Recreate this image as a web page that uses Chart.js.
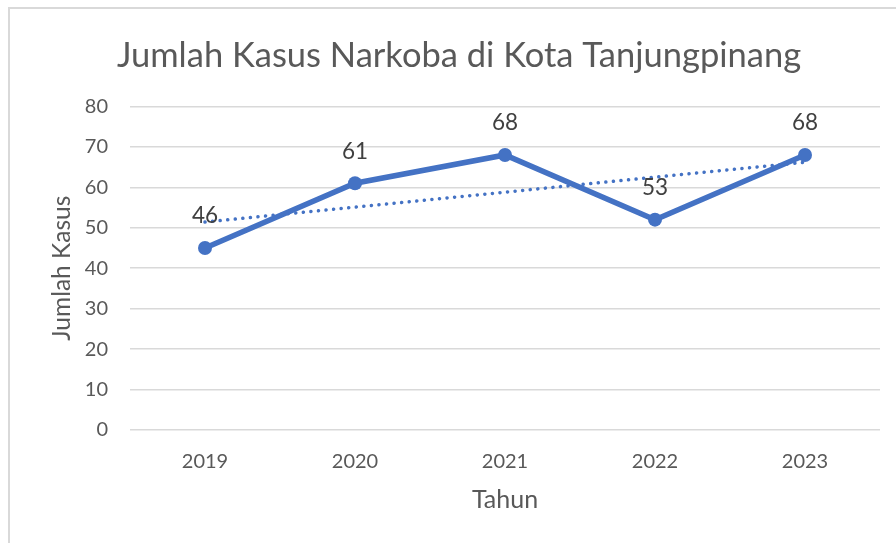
<!DOCTYPE html>
<html>
<head>
<meta charset="utf-8">
<script src="https://cdn.jsdelivr.net/npm/chart.js@4/dist/chart.umd.min.js"></script>
<style>
  html, body { margin: 0; padding: 0; background: #ffffff; }
  #wrap { position: relative; width: 896px; height: 543px; overflow: hidden; }
  #frame { position: absolute; left: 8px; top: 7px; width: 900px; height: 600px;
           border-top: 2px solid #d9d9d9; border-left: 2px solid #d9d9d9; box-sizing: border-box; }
  canvas { position: absolute; left: 0; top: 0; }
</style>
</head>
<body>
<div id="wrap">
  <div id="frame"></div>
  <canvas id="c" width="896" height="543"></canvas>
</div>
<script>
const titleText = "Jumlah Kasus Narkoba di Kota Tanjungpinang";
const xTitle = "Tahun";
const yTitle = "Jumlah Kasus";
const years = ["2019", "2020", "2021", "2022", "2023"];
const cases = [45, 61, 68, 52, 68];
const caseLabels = ["46", "61", "68", "53", "68"];
const trend = [51.4, 55.1, 58.8, 62.5, 66.2];
const yTicks = [0, 10, 20, 30, 40, 50, 60, 70, 80];

const FONT = "Lato, 'Open Sans', sans-serif";
const TEXT = "#595959";
const BLUE = "#4472c4";

const dataLabels = {
  id: "dataLabels",
  afterDatasetsDraw(chart) {
    const meta = chart.getDatasetMeta(0);
    const ctx = chart.ctx;
    ctx.save();
    ctx.font = "22.5px " + FONT;
    ctx.fillStyle = "#404040";
    ctx.textAlign = "center";
    ctx.textBaseline = "middle";
    meta.data.forEach((pt, i) => {
      ctx.fillText(caseLabels[i], pt.x, pt.y - 32);
    });
    ctx.restore();
  }
};

new Chart(document.getElementById("c"), {
  type: "line",
  data: {
    labels: years,
    datasets: [
      {
        label: "Jumlah Kasus",
        data: cases,
        borderColor: BLUE,
        backgroundColor: BLUE,
        borderWidth: 5.5,
        pointRadius: 7,
        pointHoverRadius: 7,
        pointBackgroundColor: BLUE,
        pointBorderWidth: 0,
        tension: 0,
        order: 1
      },
      {
        label: "Trend",
        data: trend,
        borderColor: BLUE,
        borderWidth: 3.5,
        borderDash: [0.1, 7.5],
        borderCapStyle: "round",
        pointRadius: 0,
        tension: 0,
        order: 2
      }
    ]
  },
  plugins: [dataLabels],
  options: {
    responsive: false,
    animation: false,
    layout: { padding: { top: 0, left: 38, right: 16, bottom: 28 } },
    plugins: {
      legend: { display: false },
      tooltip: { enabled: false },
      title: {
        display: true,
        text: titleText,
        color: TEXT,
        font: { family: FONT, size: 34.5, weight: "normal" },
        padding: { top: 35, bottom: 30 }
      }
    },
    scales: {
      x: {
        offset: true,
        grid: { display: false, drawTicks: false },
        border: { display: false },
        ticks: { color: TEXT, font: { family: FONT, size: 20 }, padding: 20 },
        title: { display: true, text: xTitle, color: TEXT, font: { family: FONT, size: 25 }, padding: 0 },
        afterFit(s) { s.height = 85; }
      },
      y: {
        min: 0, max: 80,
        afterBuildTicks(s) { s.ticks = yTicks.map(v => ({ value: v })); },
        grid: { color: "#d9d9d9", lineWidth: 1.5, drawTicks: false },
        border: { display: false },
        ticks: { color: TEXT, font: { family: FONT, size: 20 }, padding: 22 },
        title: { display: true, text: yTitle, color: TEXT, font: { family: FONT, size: 24.5 }, padding: { top: 9, bottom: 0 } },
        afterFit(s) { s.width = 92; }
      }
    }
  }
});
</script>
</body>
</html>
